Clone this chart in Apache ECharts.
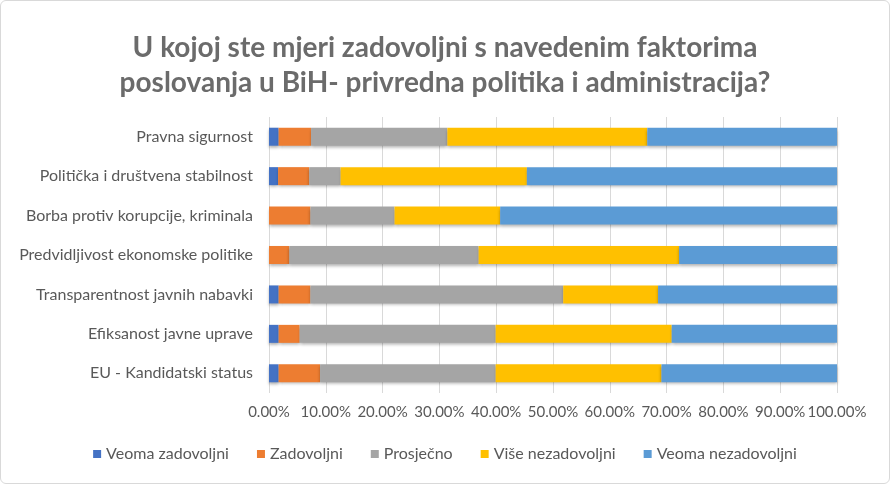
<!DOCTYPE html>
<html>
<head>
<meta charset="utf-8">
<script src="https://cdn.jsdelivr.net/npm/echarts@6/dist/echarts.min.js"></script>
<style>
  html, body { margin: 0; padding: 0; background: #fff; }
  #chart { width: 888px; height: 482px; border: 1px solid #d9d9d9; border-radius: 6px; }
</style>
</head>
<body>
<div id="chart"></div>
<script>
// kategorije, odozgo prema dolje
const categories = [
  'Pravna sigurnost',
  'Politička i društvena stabilnost',
  'Borba protiv korupcije, kriminala',
  'Predvidljivost ekonomske politike',
  'Transparentnost javnih nabavki',
  'Efiksanost javne uprave',
  'EU - Kandidatski status'
];

const seriesNames = ['Veoma zadovoljni', 'Zadovoljni', 'Prosječno', 'Više nezadovoljni', 'Veoma nezadovoljni'];

// procenti po kategoriji (isti redoslijed kao categories)
const veomaZadovoljni   = [1.7, 1.6, 0, 0, 1.7, 1.7, 1.7];
const zadovoljni        = [5.7, 5.5, 7.3, 3.6, 5.6, 3.7, 7.3];
const prosjecno         = [24.0, 5.5, 14.8, 33.3, 44.5, 34.5, 30.9];
const viseNezadovoljni  = [35.2, 32.8, 18.6, 35.3, 16.7, 31.0, 29.2];
const veomaNezadovoljni = [33.4, 54.6, 59.3, 27.8, 31.5, 29.1, 30.9];

const colors = ['#4472C4', '#ED7D31', '#A5A5A5', '#FFC000', '#5B9BD5'];
const values = [veomaZadovoljni, zadovoljni, prosjecno, viseNezadovoljni, veomaNezadovoljni];

const font = 'Lato, "Open Sans", sans-serif';
const chart = echarts.init(document.getElementById('chart'));

chart.setOption({
  animation: false,
  color: colors,
  title: {
    text: 'U kojoj ste mjeri zadovoljni s navedenim faktorima\nposlovanja u BiH- privredna politika i administracija?',
    left: 'center',
    top: 24,
    textStyle: {
      fontFamily: font,
      fontSize: 28,
      fontWeight: 'bold',
      color: '#6b6b6b',
      lineHeight: 35
    }
  },
  legend: {
    bottom: 16,
    left: 'center',
    itemWidth: 8,
    itemHeight: 8,
    itemGap: 28,
    icon: 'rect',
    textStyle: { fontFamily: font, fontSize: 16, color: '#595959' },
    data: seriesNames
  },
  grid: {
    left: 268,
    right: 52,
    top: 116,
    bottom: 90
  },
  xAxis: {
    type: 'value',
    min: 0,
    max: 100,
    interval: 10,
    axisLabel: {
      fontFamily: font,
      fontSize: 15,
      color: '#595959',
      margin: 12,
      formatter: v => v.toFixed(2) + '%'
    },
    splitLine: { lineStyle: { color: '#d9d9d9' } },
    axisLine: { show: false },
    axisTick: { show: false }
  },
  yAxis: {
    type: 'category',
    inverse: true,
    data: categories,
    axisLabel: {
      fontFamily: font,
      fontSize: 16,
      color: '#595959',
      margin: 16
    },
    axisLine: { show: false },
    axisTick: { show: false }
  },
  series: seriesNames.map((name, i) => ({
    name: name,
    type: 'bar',
    stack: 'total',
    barWidth: 18,
    data: values[i],
    itemStyle: {
      color: colors[i],
      shadowColor: 'rgba(0,0,0,0.3)',
      shadowBlur: 3,
      shadowOffsetY: 2
    }
  }))
});
</script>
</body>
</html>
